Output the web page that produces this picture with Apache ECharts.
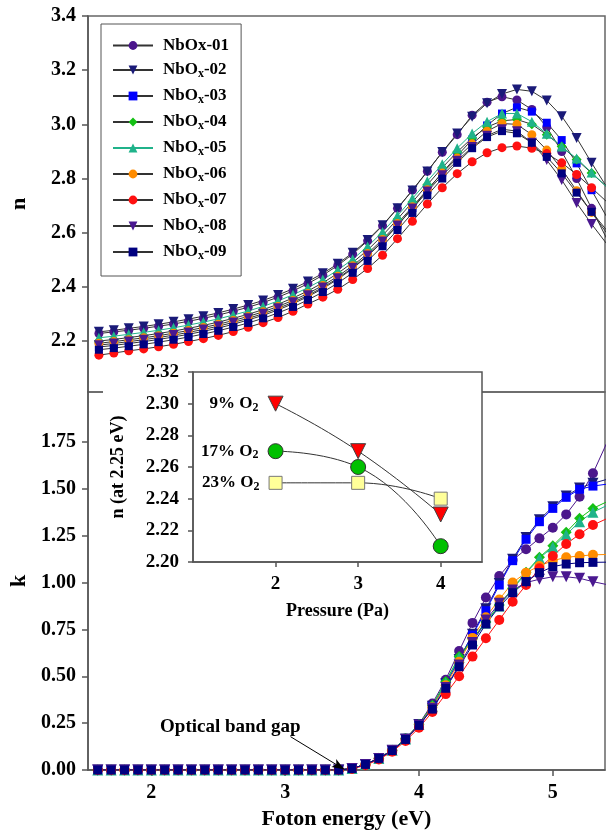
<!DOCTYPE html>
<html><head><meta charset="utf-8">
<script src="https://cdn.jsdelivr.net/npm/echarts@6/dist/echarts.min.js"></script>
<style>html,body{margin:0;padding:0;background:#fff}#c{width:608px;height:833px}</style>
</head><body><div id="c"></div>
<script>
// ---------- data ----------
const seriesNames = ['NbOx-01','NbOx-02','NbOx-03','NbOx-04','NbOx-05','NbOx-06','NbOx-07','NbOx-08','NbOx-09'];

// refractive index n, photon energy grid of upper panel
const energyN = [1.6,1.7,1.8,1.9,2.0,2.1,2.2,2.3,2.4,2.5,2.6,2.7,2.8,2.9,3.0,3.1,3.2,3.3,3.4,3.5,3.6,3.7,3.8,3.9,4.0,4.1,4.2,4.3,4.4,4.5,4.6,4.7,4.8,4.9,5.0];
const n01 = [2.228,2.234,2.240,2.247,2.255,2.263,2.273,2.284,2.296,2.310,2.325,2.342,2.362,2.385,2.412,2.443,2.479,2.521,2.570,2.626,2.690,2.757,2.827,2.897,2.962,3.034,3.082,3.102,3.090,3.055,2.990,2.900,2.800,2.690,2.580];
const n02 = [2.234,2.240,2.247,2.254,2.262,2.271,2.281,2.292,2.304,2.318,2.333,2.350,2.370,2.393,2.420,2.450,2.485,2.526,2.573,2.628,2.690,2.756,2.826,2.898,2.966,3.028,3.078,3.112,3.129,3.122,3.088,3.030,2.950,2.858,2.770];
const n03 = [2.178,2.184,2.191,2.198,2.206,2.215,2.225,2.236,2.248,2.262,2.278,2.295,2.315,2.338,2.364,2.394,2.428,2.468,2.514,2.567,2.627,2.691,2.757,2.822,2.884,2.944,2.996,3.040,3.063,3.047,3.006,2.942,2.856,2.757,2.660];
const n04 = [2.200,2.206,2.213,2.220,2.228,2.237,2.247,2.258,2.270,2.284,2.299,2.316,2.336,2.359,2.385,2.415,2.450,2.490,2.536,2.590,2.650,2.713,2.777,2.840,2.898,2.950,2.990,3.013,3.018,3.000,2.962,2.918,2.870,2.820,2.770];
const n05 = [2.212,2.218,2.225,2.232,2.240,2.249,2.259,2.270,2.282,2.296,2.311,2.328,2.348,2.371,2.397,2.427,2.462,2.502,2.549,2.603,2.663,2.726,2.790,2.853,2.912,2.966,3.010,3.040,3.040,3.010,2.965,2.918,2.874,2.822,2.770];
const n06 = [2.192,2.198,2.205,2.212,2.220,2.229,2.239,2.250,2.262,2.276,2.291,2.308,2.328,2.350,2.376,2.405,2.439,2.478,2.523,2.575,2.634,2.696,2.759,2.820,2.876,2.928,2.975,3.003,3.000,2.962,2.905,2.835,2.755,2.675,2.600];
const n07 = [2.148,2.156,2.164,2.171,2.179,2.188,2.198,2.209,2.221,2.235,2.251,2.268,2.287,2.310,2.337,2.362,2.391,2.427,2.468,2.517,2.578,2.642,2.706,2.766,2.818,2.862,2.895,2.914,2.920,2.912,2.892,2.858,2.815,2.766,2.715];
const n08 = [2.185,2.191,2.198,2.205,2.213,2.222,2.232,2.243,2.255,2.269,2.284,2.301,2.321,2.343,2.369,2.398,2.432,2.471,2.516,2.568,2.627,2.689,2.752,2.812,2.866,2.916,2.958,2.982,2.975,2.932,2.868,2.795,2.710,2.632,2.560];
const n09 = [2.168,2.174,2.181,2.188,2.196,2.205,2.215,2.226,2.238,2.252,2.267,2.284,2.304,2.326,2.352,2.381,2.414,2.452,2.496,2.550,2.610,2.673,2.738,2.800,2.858,2.912,2.953,2.975,2.967,2.932,2.880,2.819,2.748,2.677,2.610];

// extinction coefficient k
const energyK = [1.6,1.7,1.8,1.9,2.0,2.1,2.2,2.3,2.4,2.5,2.6,2.7,2.8,2.9,3.0,3.1,3.2,3.3,3.4,3.5,3.6,3.7,3.8,3.9,4.0,4.1,4.2,4.3,4.4,4.5,4.6,4.7,4.8,4.9,5.0,5.1,5.2,5.3,5.4];
const k01 = [0,0,0,0,0,0,0,0,0,0,0,0,0,0,0,0,0,0,0,0.008,0.030,0.063,0.107,0.168,0.245,0.355,0.482,0.635,0.785,0.920,1.035,1.120,1.178,1.236,1.293,1.364,1.458,1.583,1.740];
const k02 = [0,0,0,0,0,0,0,0,0,0,0,0,0,0,0,0,0,0,0,0.008,0.030,0.062,0.105,0.165,0.243,0.340,0.460,0.590,0.725,0.860,0.995,1.125,1.240,1.335,1.405,1.462,1.505,1.530,1.550];
const k03 = [0,0,0,0,0,0,0,0,0,0,0,0,0,0,0,0,0,0,0,0.008,0.030,0.062,0.105,0.165,0.242,0.340,0.460,0.590,0.720,0.850,0.987,1.117,1.231,1.325,1.396,1.455,1.498,1.515,1.525];
const k04 = [0,0,0,0,0,0,0,0,0,0,0,0,0,0,0,0,0,0,0,0.008,0.030,0.063,0.106,0.167,0.244,0.345,0.472,0.605,0.700,0.790,0.880,0.970,1.055,1.135,1.197,1.268,1.343,1.396,1.430];
const k05 = [0,0,0,0,0,0,0,0,0,0,0,0,0,0,0,0,0,0,0,0.008,0.030,0.062,0.105,0.166,0.243,0.340,0.465,0.600,0.690,0.785,0.875,0.965,1.050,1.130,1.190,1.255,1.325,1.375,1.410];
const k06 = [0,0,0,0,0,0,0,0,0,0,0,0,0,0,0,0,0,0,0,0.008,0.030,0.062,0.104,0.163,0.240,0.335,0.452,0.578,0.705,0.815,0.910,1.000,1.053,1.089,1.117,1.135,1.142,1.148,1.150];
const k07 = [0,0,0,0,0,0,0,0,0,0,0,0,0,0,0,0,0,0,0,0.006,0.025,0.056,0.098,0.155,0.225,0.310,0.405,0.500,0.605,0.703,0.800,0.898,0.987,1.076,1.142,1.206,1.258,1.307,1.340];
const k08 = [0,0,0,0,0,0,0,0,0,0,0,0,0,0,0,0,0,0,0,0.008,0.030,0.062,0.104,0.163,0.240,0.330,0.440,0.560,0.680,0.800,0.890,0.960,1.000,1.018,1.031,1.031,1.023,1.005,0.990];
const k09 = [0,0,0,0,0,0,0,0,0,0,0,0,0,0,0,0,0,0,0,0.008,0.030,0.062,0.104,0.163,0.238,0.325,0.436,0.551,0.667,0.779,0.871,0.946,1.005,1.053,1.085,1.099,1.106,1.108,1.109];

// inset: n at 2.25 eV vs pressure
const pressure = [2,3,4];
const nO2_9 = [2.30,2.27,2.23];
const nO2_17 = [2.27,2.26,2.21];
const nO2_23 = [2.25,2.25,2.24];

// tick labels
const xTicks = [2,3,4,5];
const nTicks = [2.2,2.4,2.6,2.8,3.0,3.2,3.4];
const kTicks = [0,0.25,0.5,0.75,1.0,1.25,1.5,1.75];
const insetXTicks = [2,3,4];

// ---------- styling ----------
const FF = '"Liberation Serif","Times New Roman",serif';
const nSeries = [n01,n02,n03,n04,n05,n06,n07,n08,n09];
const kSeries = [k01,k02,k03,k04,k05,k06,k07,k08,k09];
const colors = ['#4B168C','#1A1A78','#0000FF','#14C014','#1FB38A','#FF8C00','#FF1010','#4A1890','#000080'];
const symbols = ['circle','triangle','rect','diamond','triangle','circle','circle','triangle','rect'];
const rotates = [0,180,0,0,0,0,0,180,0];
const sizes = [9,10,8,10,10,9,9,10,8];

const axisLineStyle = {color:'#555', width:1.5};
const tickLabel = {fontFamily:FF, fontWeight:'bold', fontSize:20, color:'#000'};
const nameStyle = {fontFamily:FF, fontWeight:'bold', fontSize:22, color:'#000'};

const series = [];
nSeries.forEach((arr,i)=>{
  series.push({
    type:'line', name:seriesNames[i], xAxisIndex:0, yAxisIndex:0,
    data: energyN.map((e,j)=>[e,arr[j]]),
    symbol:symbols[i], symbolRotate:rotates[i], symbolSize:sizes[i],
    itemStyle:{color:colors[i]},
    lineStyle:{color: i===4 ? '#20B28A' : '#333', width:1},
    z:2, clip:true
  });
});
kSeries.forEach((arr,i)=>{
  const s = {
    type:'line', name:seriesNames[i], xAxisIndex:1, yAxisIndex:1,
    data: energyK.map((e,j)=>[e,arr[j]]),
    symbol:symbols[i], symbolRotate:rotates[i], symbolSize:sizes[i]+1,
    itemStyle:{color:colors[i]},
    lineStyle:{color:colors[i], width:1},
    z:2, clip:true
  };
  if (i===8) {
    s.markLine = {
      silent:true, symbol:['none','arrow'], symbolSize:[7,12],
      lineStyle:{color:'#000', width:1, type:'solid'}, label:{show:false},
      data:[[{coord:[3.04,0.178]},{coord:[3.44,0.004]}]]
    };
    s.markPoint = {
      silent:true, symbol:'circle', symbolSize:1, itemStyle:{color:'rgba(0,0,0,0)'},
      label:{show:true, position:'inside', formatter:'Optical band gap', fontFamily:FF, fontWeight:'bold', fontSize:19, color:'#000'},
      data:[{coord:[2.59,0.229]}]
    };
  }
  series.push(s);
});

const subRich = {
  a:{fontFamily:FF, fontWeight:'bold', fontSize:17, color:'#000', lineHeight:20},
  s:{fontFamily:FF, fontWeight:'bold', fontSize:12, color:'#000', lineHeight:12, padding:[8,0,0,0]}
};
function insetSeries(vals, sym, rot, size, fill, border, lbl){
  return {
    type:'line', xAxisIndex:2, yAxisIndex:2, smooth:true, z:12,
    symbol:sym, symbolRotate:rot, symbolSize:size,
    itemStyle:{color:fill, borderColor:border, borderWidth:1},
    lineStyle:{color:'#333', width:1},
    data: pressure.map((p,j)=> j===0 ? {value:[p,vals[j]], label:{show:true, position:'left', distance:9, formatter:lbl, rich:subRich}} : [p,vals[j]])
  };
}
series.push(insetSeries(nO2_9,'triangle',180,15,'#FF0000','#444','{a|9% O}{s|2}'));
series.push(insetSeries(nO2_17,'circle',0,15,'#00C000','#333','{a|17% O}{s|2}'));
series.push(insetSeries(nO2_23,'rect',0,13,'#FFFF99','#777','{a|23% O}{s|2}'));

const option = {
  animation:false,
  backgroundColor:'#fff',
  grid:[
    {left:84, top:16, width:521, height:376, show:true, borderColor:'#666', borderWidth:1.5},
    {left:84, top:392, width:521, height:378, show:true, borderColor:'#666', borderWidth:1.5},
    {left:193, top:372, width:289, height:190, show:true, borderColor:'#555', borderWidth:1.5, backgroundColor:'#fff', z:10}
  ],
  graphic:[{type:'rect', left:103, top:364, shape:{width:379, height:202}, style:{fill:'#fff'}, z:5, silent:true}],
  legend:{
    data:seriesNames, orient:'vertical', left:101, top:24,
    itemWidth:40, itemHeight:11, itemGap:6, padding:[13,12,14,11],
    borderColor:'#555', borderWidth:1, backgroundColor:'#fff', selectedMode:false,
    formatter: nm => nm==='NbOx-01' ? '{b|NbOx-01}' : '{b|NbO}{s|x}{a|'+nm.slice(4)+'}',
    textStyle:{fontFamily:FF, fontWeight:'bold', fontSize:17, color:'#000',
      rich:{
        b:{fontFamily:FF, fontWeight:'bold', fontSize:17, color:'#000', lineHeight:20, padding:[0,0,0,5]},
        a:{fontFamily:FF, fontWeight:'bold', fontSize:17, color:'#000', lineHeight:20},
        s:{fontFamily:FF, fontWeight:'bold', fontSize:12, color:'#000', lineHeight:12, padding:[8,0,0,0]}
      }}
  },
  xAxis:[
    {gridIndex:0, type:'value', min:1.527, max:4.99, show:false},
    {gridIndex:1, type:'value', min:1.527, max:5.39,
      axisLine:{show:true, onZero:false, lineStyle:axisLineStyle},
      axisTick:{show:true, customValues:xTicks, length:6, lineStyle:axisLineStyle},
      axisLabel:Object.assign({customValues:xTicks, margin:13}, tickLabel),
      splitLine:{show:false},
      name:'Foton energy (eV)', nameLocation:'middle', nameGap:38, nameTextStyle:nameStyle},
    {gridIndex:2, type:'value', min:1, max:4.5, z:10,
      axisLine:{show:true, onZero:false, lineStyle:axisLineStyle},
      axisTick:{show:true, customValues:insetXTicks, length:5, lineStyle:axisLineStyle},
      axisLabel:Object.assign({customValues:insetXTicks, margin:13}, tickLabel, {fontSize:19}),
      splitLine:{show:false},
      name:'Pressure (Pa)', nameLocation:'middle', nameGap:40, nameTextStyle:Object.assign({}, nameStyle, {fontSize:18})}
  ],
  yAxis:[
    {gridIndex:0, type:'value', min:2.012, max:3.4,
      axisLine:{show:true, onZero:false, lineStyle:axisLineStyle},
      axisTick:{show:true, customValues:nTicks, length:6, lineStyle:axisLineStyle},
      axisLabel:Object.assign({customValues:nTicks, margin:12, formatter:v=>v.toFixed(1)}, tickLabel),
      splitLine:{show:false},
      name:'n', nameLocation:'middle', nameGap:58, nameTextStyle:nameStyle},
    {gridIndex:1, type:'value', min:0, max:2.017,
      axisLine:{show:true, onZero:false, lineStyle:axisLineStyle},
      axisTick:{show:true, customValues:kTicks, length:6, lineStyle:axisLineStyle},
      axisLabel:Object.assign({customValues:kTicks, margin:12, formatter:v=>v.toFixed(2)}, tickLabel),
      splitLine:{show:false},
      name:'k', nameLocation:'middle', nameGap:58, nameTextStyle:nameStyle},
    {gridIndex:2, type:'value', min:2.2, max:2.32, interval:0.02, z:10,
      axisLine:{show:true, onZero:false, lineStyle:axisLineStyle},
      axisTick:{show:true, length:5, lineStyle:axisLineStyle},
      axisLabel:Object.assign({margin:14, formatter:v=>v.toFixed(2)}, tickLabel, {fontSize:19}),
      splitLine:{show:false},
      name:'n (at 2.25 eV)', nameLocation:'middle', nameGap:66, nameTextStyle:Object.assign({}, nameStyle, {fontSize:18})}
  ],
  series: series
};
const chart = echarts.init(document.getElementById('c'), null, {renderer:'canvas'});
chart.setOption(option);
</script>
</body></html>
